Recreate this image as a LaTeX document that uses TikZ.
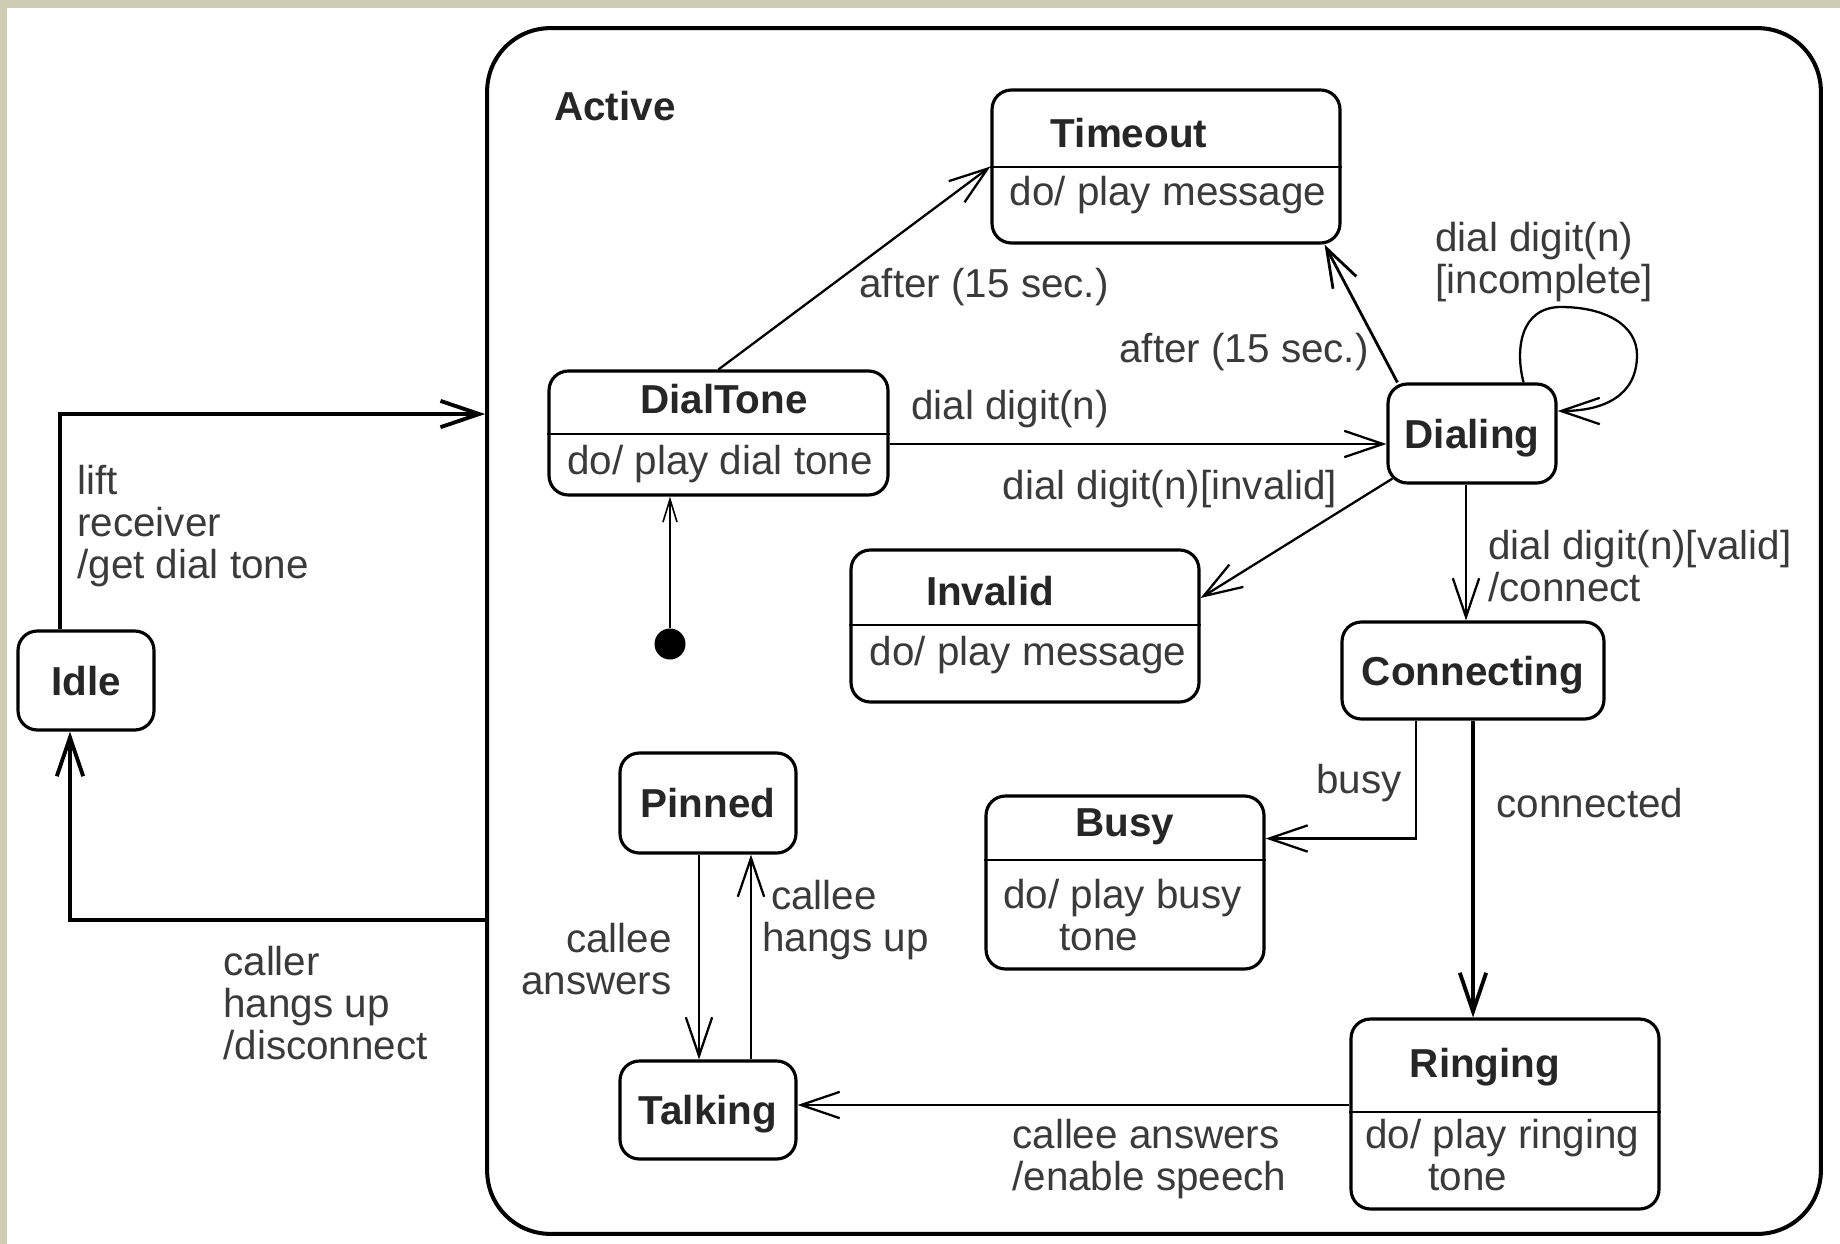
\documentclass[tikz,border=0pt]{standalone}
\usepackage{fontspec}
\setmainfont{Liberation Sans}
\usetikzlibrary{arrows.meta}
\definecolor{txtgray}{RGB}{58,58,58}
\definecolor{framebeige}{RGB}{206,205,178}
\begin{document}
\begin{tikzpicture}[x=0.02cm,y=-0.02cm,
    every node/.style={text=txtgray,inner sep=0pt,font=\fontsize{23}{24}\selectfont},
    state/.style={draw=black,line width=1.8pt,rounded corners=11pt,text depth=0pt},
    title/.style={text=black!85,font=\fontsize{23}{24}\selectfont\bfseries},
    lbl/.style={align=left},
    divider/.style={line width=1.5pt},
    trans/.style={line width=1.3pt,-{Straight Barb[length=22pt,width=15pt]}},
    heavy/.style={trans,line width=2.2pt}]
    \useasboundingbox (0,0) rectangle (1840,1244);
    \fill[white] (0,0) rectangle (1840,1244);
    \fill[framebeige] (0,0) rectangle (1840,8);
    \fill[framebeige] (0,0) rectangle (7,1244);

    \node[state,line width=2.3pt,rounded corners=36pt,minimum width=26.68cm,minimum height=24.12cm] (active) at (1154,631) {};
    \node[title,anchor=west] (activename) at (554,106) {Active};

    \node[state,title,minimum width=2.72cm,minimum height=1.98cm] (idle) at (86,680.5) {Idle};

    \node[state,minimum width=6.78cm,minimum height=2.48cm] (dialtone) at (718.5,433) {};
    \draw[divider] (dialtone.west |- 0,434) -- (dialtone.east |- 0,434);
    \node[title] (dialtonename) at (724,399) {DialTone};
    \node (dialtonedo) at (720,464) {do/ play dial tone};

    \node[state,minimum width=6.96cm,minimum height=3.06cm] (timeout) at (1166,166.5) {};
    \draw[divider] (timeout.west |- 0,167) -- (timeout.east |- 0,167);
    \node[title] (timeoutname) at (1129,133) {Timeout};
    \node (timeoutdo) at (1168,195) {do/ play message};

    \node[state,title,minimum width=3.36cm,minimum height=1.98cm] (dialing) at (1472,433.5) {Dialing};

    \node[state,minimum width=6.96cm,minimum height=3.04cm] (invalid) at (1025,626) {};
    \draw[divider] (invalid.west |- 0,625) -- (invalid.east |- 0,625);
    \node[title] (invalidname) at (990,591) {Invalid};
    \node (invaliddo) at (1028,655) {do/ play message};

    \node[state,title,minimum width=5.24cm,minimum height=1.94cm] (connecting) at (1473,670.5) {Connecting};

    \node[state,minimum width=5.56cm,minimum height=3.46cm] (busy) at (1125,882.5) {};
    \draw[divider] (busy.west |- 0,860) -- (busy.east |- 0,860);
    \node[title] (busyname) at (1125,827) {Busy};
    \node[lbl,anchor=west] (busydo) at (1003,915) {do/ play busy\\\hspace*{32pt}tone};

    \node[state,minimum width=6.16cm,minimum height=3.8cm] (ringing) at (1505,1114) {};
    \draw[divider] (ringing.west |- 0,1112) -- (ringing.east |- 0,1112);
    \node[title] (ringingname) at (1485,1067) {Ringing};
    \node[lbl,anchor=west] (ringingdo) at (1365,1155) {do/ play ringing\\\hspace*{36pt}tone};

    \node[state,title,minimum width=3.52cm,minimum height=2cm] (pinned) at (708,803) {Pinned};
    \node[state,title,minimum width=3.52cm,minimum height=1.96cm] (talking) at (708,1110) {Talking};

    \node[circle,fill=black,minimum size=0.62cm] (init) at (670,644) {};

    \coordinate (dd) at ([yshift=-0.22cm]dialtone.east);
    \coordinate (dc) at ([xshift=-0.12cm]dialing.south);
    \coordinate (rt) at ([yshift=0.18cm]ringing.west);
    \coordinate (pt) at ([xshift=-0.18cm]pinned.south);
    \coordinate (tp) at ([xshift=0.86cm]talking.north);

    \draw[line width=0.9pt,-{Straight Barb[length=13pt,width=8pt]}] (init) -- (init |- dialtone.south);
    \draw[trans] (dialtone.north) -- (timeout.west);
    \draw[trans] (dd) -- (dd -| dialing.west);
    \draw[trans,line width=1.6pt] ([xshift=0.22cm]dialing.north west) -- ([xshift=-0.34cm]timeout.south east);
    \draw[trans] ([xshift=-0.68cm]dialing.north east) .. controls (1515,350) and (1520,307) .. (1561,307)
        .. controls (1605,307) and (1637,325) .. (1637,355)
        .. controls (1637,395) and (1605,411) .. ([yshift=0.45cm]dialing.east);
    \draw[trans] ([shift={(0.12cm,0.12cm)}]dialing.south west) -- ([yshift=0.56cm]invalid.east);
    \draw[trans] (dc) -- (dc |- connecting.north);
    \draw[trans] ([xshift=-1.14cm]connecting.south) |- ([yshift=0.88cm]busy.east);
    \draw[heavy] (connecting.south) -- (connecting.south |- ringing.north);
    \draw[trans] (rt) -- (rt -| talking.east);
    \draw[trans] (pt) -- (pt |- talking.north);
    \draw[trans] (tp) -- (tp |- pinned.south);
    \draw[heavy] ([xshift=-0.52cm]idle.north) |- ([yshift=4.34cm]active.west);
    \draw[heavy] ([yshift=-5.78cm]active.west) -| ([xshift=-0.32cm]idle.south);

    \node[lbl,anchor=west] (liftlbl) at (77,526) {lift\\receiver\\/get dial tone};
    \node[lbl,anchor=west] (hanglbl) at (223,1003) {caller\\hangs up\\/disconnect};
    \node (afterlbl) at (984,287) {after (15 sec.)};
    \node (timeoutlbl) at (1244,352) {after (15 sec.)};
    \node (digitlbl) at (1010,409) {dial digit(n)};
    \node (invalidlbl) at (1170,489) {dial digit(n)[invalid]};
    \node[lbl,anchor=west] (incompletelbl) at (1435,262) {dial digit(n)\\ {[incomplete]}};
    \node[lbl,anchor=west] (validlbl) at (1488,566) {dial digit(n)[valid]\\/connect};
    \node (busylbl) at (1359,783) {busy};
    \node (connectedlbl) at (1590,803) {connected};
    \node[lbl,anchor=west] (speechlbl) at (1012,1159) {callee answers\\/enable speech};
    \node[align=right,anchor=east] (answerlbl) at (672,959) {callee\\answers};
    \node[lbl,anchor=west] (hangsuplbl) at (762,920) {\hspace*{5pt}callee\\hangs up};
\end{tikzpicture}
\end{document}
